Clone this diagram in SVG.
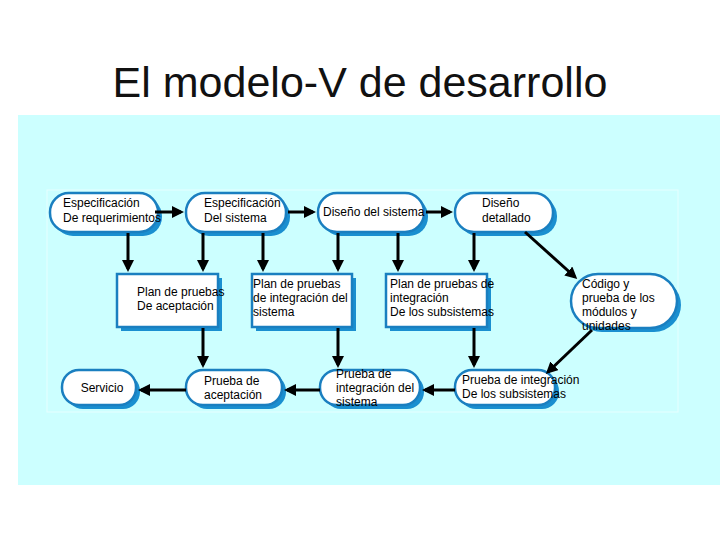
<svg xmlns="http://www.w3.org/2000/svg" width="720" height="540" viewBox="0 0 720 540">
<style>
.t{font-family:"Liberation Sans",Arial,sans-serif;font-size:12px;fill:#000}
.n{fill:#fff;stroke:#1a7fc0;stroke-width:2.5}
.s{fill:#1a8fd0}
.c{stroke:#000;stroke-width:3;fill:none;marker-end:url(#a)}
</style>
<defs><marker id="a" markerWidth="4" markerHeight="4" refX="3" refY="2" orient="auto"><path d="M0,0L4,2L0,4Z" fill="#000"/></marker></defs>
<rect width="720" height="540" fill="#fff"/>
<text x="360" y="97" text-anchor="middle" font-family="Liberation Sans,Arial,sans-serif" font-size="43" fill="#111">El modelo-V de desarrollo</text>
<rect x="18" y="115" width="702" height="370" fill="#ccffff"/>
<rect x="47" y="190" width="631" height="222" fill="none" stroke="#e6ffff" stroke-width="1"/>
<g id="n1"><rect class="s" x="54" y="197" width="108" height="39" rx="19"/><rect class="n" x="50" y="193" width="108" height="39" rx="19"/><text class="t" x="63" y="207">Especificación</text><text class="t" x="63" y="222">De requerimientos</text></g>
<g id="n2"><rect class="s" x="190" y="197" width="100" height="39" rx="19"/><rect class="n" x="186" y="193" width="100" height="39" rx="19"/><text class="t" x="204" y="207">Especificación</text><text class="t" x="204" y="222">Del sistema</text></g>
<g id="n3"><rect class="s" x="322" y="197" width="106" height="39" rx="19"/><rect class="n" x="318" y="193" width="106" height="39" rx="19"/><text class="t" x="323" y="216">Diseño del sistema</text></g>
<g id="n4"><rect class="s" x="459" y="197" width="98" height="39" rx="19"/><rect class="n" x="455" y="193" width="98" height="39" rx="19"/><text class="t" x="482" y="207">Diseño</text><text class="t" x="482" y="222">detallado</text></g>
<g id="n5"><rect class="s" x="575" y="278" width="106" height="54" rx="27"/><rect class="n" x="571" y="274" width="106" height="54" rx="27"/><text class="t" x="582" y="288">Código y</text><text class="t" x="582" y="302">prueba de los</text><text class="t" x="582" y="316">módulos y</text><text class="t" x="582" y="330">unidades</text></g>
<g id="n6"><rect class="s" x="121" y="278" width="101" height="53"/><rect class="n" x="117" y="274" width="101" height="53"/><text class="t" x="137" y="296">Plan de pruebas</text><text class="t" x="137" y="310">De aceptación</text></g>
<g id="n7"><rect class="s" x="256" y="278" width="100" height="53"/><rect class="n" x="252" y="274" width="100" height="53"/><text class="t" x="253" y="288">Plan de pruebas</text><text class="t" x="253" y="302">de integración del</text><text class="t" x="253" y="316">sistema</text></g>
<g id="n8"><rect class="s" x="390" y="278" width="101" height="53"/><rect class="n" x="386" y="274" width="101" height="53"/><text class="t" x="390" y="288">Plan de pruebas de</text><text class="t" x="390" y="302">integración</text><text class="t" x="390" y="316">De los subsistemas</text></g>
<g id="n9"><rect class="s" x="66" y="374" width="74" height="35" rx="17"/><rect class="n" x="62" y="370" width="74" height="35" rx="17"/><text class="t" x="102" y="392" text-anchor="middle">Servicio</text></g>
<g id="n10"><rect class="s" x="190" y="374" width="96" height="35" rx="17"/><rect class="n" x="186" y="370" width="96" height="35" rx="17"/><text class="t" x="204" y="385">Prueba de</text><text class="t" x="204" y="399">aceptación</text></g>
<g id="n11"><rect class="s" x="324" y="374" width="100" height="35" rx="17"/><rect class="n" x="320" y="370" width="100" height="35" rx="17"/><text class="t" x="336" y="378">Prueba de</text><text class="t" x="336" y="392">integración del</text><text class="t" x="336" y="406">sistema</text></g>
<g id="n12"><rect class="s" x="459" y="374" width="100" height="35" rx="17"/><rect class="n" x="455" y="370" width="100" height="35" rx="17"/><text class="t" x="462" y="384">Prueba de integración</text><text class="t" x="462" y="398">De los subsistemas</text></g>
<g id="connectors">
<path class="c" d="M155,212H181"/><path class="c" d="M288,212H313"/><path class="c" d="M426,212H450"/>
<path class="c" d="M128,233V269"/><path class="c" d="M203,233V269"/><path class="c" d="M263,233V269"/>
<path class="c" d="M338,233V269"/><path class="c" d="M398,233V269"/><path class="c" d="M474,233V269"/>
<path class="c" d="M525,232L575,277"/><path class="c" d="M592,330L548,372"/>
<path class="c" d="M203,328V365"/><path class="c" d="M338,328V365"/><path class="c" d="M474,328V365"/>
<path class="c" d="M455,390H425"/><path class="c" d="M320,390H287"/><path class="c" d="M186,390H141"/>
</g>
</svg>
